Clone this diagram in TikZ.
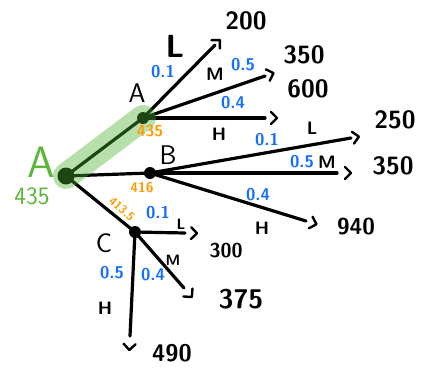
\documentclass[tikz,border=0pt]{standalone}
\usetikzlibrary{decorations.markings}
\definecolor{hblue}{RGB}{20,110,255}
\definecolor{horange}{RGB}{255,154,0}
\definecolor{hgreen}{RGB}{93,181,58}
\definecolor{hlgreen}{RGB}{76,175,48}
\tikzset{
  every node/.style={font=\sffamily, inner sep=0pt},
  br/.style={line width=3.2pt, line cap=round},
  dotnode/.style={circle, fill=black, minimum size=12pt, inner sep=0pt},
  rootdot/.style={circle, fill=black, minimum size=17pt, inner sep=0pt},
  chevstyle/.style={line width=2.4pt, line cap=round, line join=round},
  tipped/.style={postaction={decorate, decoration={markings,
     mark=at position 1 with {\draw[chevstyle] (#1+0pt,6pt) -- (#1+6pt,0pt) -- (#1+0pt,-6pt);}}}},
  prob/.style={text=hblue, font=\sffamily\bfseries\fontsize{17}{17}\selectfont},
  val/.style={font=\sffamily\bfseries\fontsize{25}{25}\selectfont},
  lvl/.style={font=\sffamily\bfseries\fontsize{18}{18}\selectfont},
  big/.style={font=\sffamily\fontsize{27}{27}\selectfont},
  util/.style={text=horange, font=\sffamily\bfseries\fontsize{16}{16}\selectfont}
}
\begin{document}
\begin{tikzpicture}[x=1pt, y=-1pt]
\useasboundingbox (0,0) rectangle (424,368);
% nodes
\node[rootdot] (R) at (66,176) {};
\node[dotnode] (A) at (143,118) {};
\node[dotnode] (B) at (150,173) {};
\node[dotnode] (C) at (135,232) {};
% end points
\coordinate (AL) at (215,45);
\coordinate (AM) at (265,76);
\coordinate (AH) at (265,118);
\coordinate (BL) at (351,138);
\coordinate (BM) at (337,173);
\coordinate (BH) at (306,221);
\coordinate (CL) at (185,233);
\coordinate (CM) at (184,288);
\coordinate (CH) at (130,336);
% connectors
\draw[br] (R.center) -- (A.center);
\draw[br] (R.center) -- (B.center);
\draw[br] (R.center) -- (C.center);
\draw[br, tipped=1] (A.center) -- (AL);
\draw[br, tipped=3] (A.center) -- (AM);
\draw[br, tipped=6] (A.center) -- (AH);
\draw[br, tipped=2] (B.center) -- (BL);
\draw[br, tipped=8] (B.center) -- (BM);
\draw[br, tipped=5] (B.center) -- (BH);
\draw[br, tipped=6] (C.center) -- (CL);
\draw[br, tipped=6] (C.center) -- (CM);
\draw[br, tipped=8] (C.center) -- (CH);
% highlight
\draw[line width=26pt, line cap=round, hlgreen, opacity=0.4] (R.center) -- (A.center);
% root labels
\node[text=hgreen, font=\sffamily\fontsize{44}{44}\selectfont] (gA) at (41,162) {A};
\node[text=hgreen, font=\sffamily\fontsize{25}{25}\selectfont] (g435) at (32,196) {435};
% A branch
\node[big] (lA) at (137,93) {A};
\node[util] (oA) at (150,131) {435};
\node[font=\sffamily\bfseries\fontsize{32}{32}\selectfont] (lL1) at (175,46) {L};
\node[prob] (pAL) at (163,72) {0.1};
\node[lvl] (lM1) at (215,74) {M};
\node[prob] (pAM) at (243,65) {0.5};
\node[prob] (pAH) at (233,103) {0.4};
\node[lvl] (lH1) at (219,134) {H};
\node[val] (v200) at (246,21) {200};
\node[val] (v350a) at (304,55) {350};
\node[val] (v600) at (308,89) {600};
% B branch
\node[big] (lB) at (168,155) {B};
\node[util, font=\sffamily\bfseries\fontsize{14}{14}\selectfont] (oB) at (142,188) {416};
\node[prob] (pBL) at (267,140) {0.1};
\node[lvl] (lL2) at (312,128) {L};
\node[val] (v250) at (395,120) {250};
\node[prob] (pBM) at (302,162) {0.5};
\node[lvl] (lM2) at (327,162) {M};
\node[val] (v350b) at (393,166) {350};
\node[prob] (pBH) at (258,195) {0.4};
\node[lvl] (lH2) at (262,228) {H};
\node[val, font=\sffamily\bfseries\fontsize{23}{23}\selectfont] (v940) at (356,227) {940};
% C branch
\node[big] (lC) at (104,243) {C};
\node[util, font=\sffamily\bfseries\fontsize{12}{12}\selectfont, rotate=-42] (oC) at (122,209) {413.5};
\node[prob] (pCL) at (158,213) {0.1};
\node[lvl, font=\sffamily\bfseries\fontsize{15}{15}\selectfont] (lL3) at (181,224) {L};
\node[val, font=\sffamily\bfseries\fontsize{20}{20}\selectfont] (v300) at (226,251) {300};
\node[lvl, font=\sffamily\bfseries\fontsize{15}{15}\selectfont] (lM3) at (173,260) {M};
\node[prob] (pCM) at (153,275) {0.4};
\node[val, font=\sffamily\bfseries\fontsize{27}{27}\selectfont] (v375) at (241,299) {375};
\node[prob] (pCH) at (112,273) {0.5};
\node[lvl] (lH3) at (105,308) {H};
\node[val, font=\sffamily\bfseries\fontsize{24}{24}\selectfont] (v490) at (172,353) {490};
\end{tikzpicture}
\end{document}
